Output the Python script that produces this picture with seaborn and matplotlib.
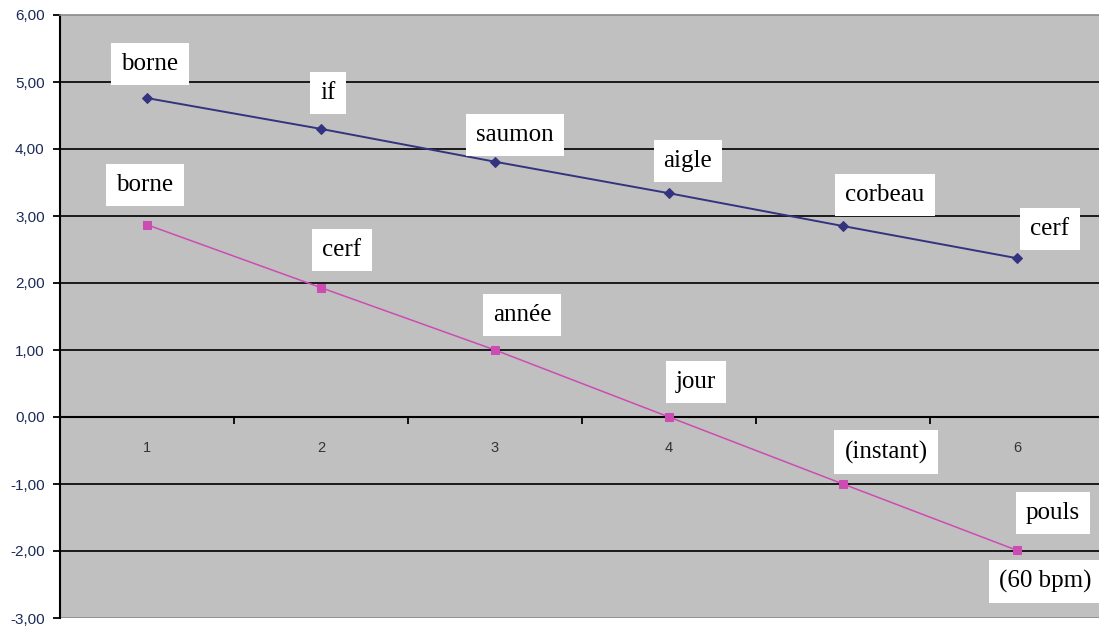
import matplotlib
matplotlib.use("Agg")
import matplotlib.pyplot as plt
import seaborn as sns
import pandas as pd
import numpy as np
from matplotlib.ticker import FixedLocator, FuncFormatter

# ---- data ----
categories = [1, 2, 3, 4, 5, 6]
blue_values = [4.76, 4.30, 3.81, 3.34, 2.85, 2.37]
pink_values = [2.87, 1.93, 1.00, 0.00, -1.00, -1.99]
blue_labels = ["borne", "if", "saumon", "aigle", "corbeau", "cerf"]
pink_labels = ["borne", "cerf", "année", "jour", "(instant)", "pouls"]
extra_label = "(60 bpm)"
y_ticks = [-3, -2, -1, 0, 1, 2, 3, 4, 5, 6]

# label offsets in pixels (layout only)
blue_offsets = [(3, 34), (7, 36), (20, 27), (19, 32), (42, 31), (33, 29)]
pink_offsets = [(-2, 40), (21, 38), (27, 35), (27, 35), (43, 32), (36, 37)]
extra_offset = (28, -31)

sns.set_theme(style="white")
plt.rcParams["font.family"] = ["Liberation Sans", "DejaVu Sans"]

fig = plt.figure(figsize=(10.99, 6.28), dpi=100)
fig.patch.set_facecolor("white")
ax = fig.add_axes([60 / 1099, 10 / 628, 1044 / 1099, 603 / 628])
ax.set_facecolor("#C0C0C0")

BLUE = "#333380"
PINK = "#CC4CB4"

df_b = pd.DataFrame({"x": categories, "y": blue_values})
df_p = pd.DataFrame({"x": categories, "y": pink_values})

# gridlines
for yv in y_ticks[1:-1]:
    ax.axhline(yv, color="#1a1a1a", lw=1.4, zorder=1)
ax.axhline(y_ticks[0], color="#8a8a8a", lw=1.2, zorder=1)

sns.lineplot(data=df_b, x="x", y="y", ax=ax, color=BLUE, lw=1.4,
             marker="D", markersize=5.5, markeredgecolor=BLUE, zorder=3)
sns.lineplot(data=df_p, x="x", y="y", ax=ax, color=PINK, lw=1.1,
             marker="s", markersize=6, markeredgecolor=PINK, zorder=3)

ax.set_xlim(0.5, 6.5)
ax.set_ylim(y_ticks[0], y_ticks[-1])
ax.set_xlabel("")
ax.set_ylabel("")

# spines
ax.spines["left"].set_color("black")
ax.spines["left"].set_linewidth(1.5)
ax.spines["top"].set_color("#8a8a8a")
ax.spines["top"].set_linewidth(1.2)
ax.spines["right"].set_visible(False)
ax.spines["bottom"].set_position(("data", 0))
ax.spines["bottom"].set_color("black")
ax.spines["bottom"].set_linewidth(1.5)

# y ticks
ax.yaxis.set_major_locator(FixedLocator(y_ticks))
ax.yaxis.set_major_formatter(FuncFormatter(lambda v, p: f"{v:.2f}".replace(".", ",")))
ax.tick_params(axis="y", which="major", direction="out", length=5, width=1.3,
               color="black", pad=6, labelsize=11, labelcolor="#1c2a58", left=True)

# x ticks: marks between categories, labels at categories
ax.xaxis.set_major_locator(FixedLocator([c + 0.5 for c in categories[:-1]]))
ax.xaxis.set_major_formatter(FuncFormatter(lambda v, p: ""))
ax.xaxis.set_minor_locator(FixedLocator(categories))
ax.xaxis.set_minor_formatter(FuncFormatter(lambda v, p: f"{int(round(v))}"))
ax.tick_params(axis="x", which="major", direction="out", length=5, width=1.3,
               color="black", bottom=True)
ax.tick_params(axis="x", which="minor", length=0, pad=17, labelsize=10.5,
               labelcolor="#333333", bottom=True)

box = dict(boxstyle="square,pad=0.4", facecolor="white", edgecolor="none")
serif = ["Liberation Serif", "DejaVu Serif"]

for x, y, lab, off in zip(categories, blue_values, blue_labels, blue_offsets):
    ax.annotate(lab, xy=(x, y), xytext=off, textcoords="offset pixels",
                ha="center", va="center", fontsize=18, family=serif,
                color="black", bbox=box, zorder=5)
for x, y, lab, off in zip(categories, pink_values, pink_labels, pink_offsets):
    ax.annotate(lab, xy=(x, y), xytext=off, textcoords="offset pixels",
                ha="center", va="center", fontsize=18, family=serif,
                color="black", bbox=box, zorder=5)
ax.annotate(extra_label, xy=(categories[-1], pink_values[-1]), xytext=extra_offset,
            textcoords="offset pixels", ha="center", va="center", fontsize=18,
            family=serif, color="black", bbox=box, zorder=5)

fig.savefig("out.png", dpi=100, facecolor="white")
